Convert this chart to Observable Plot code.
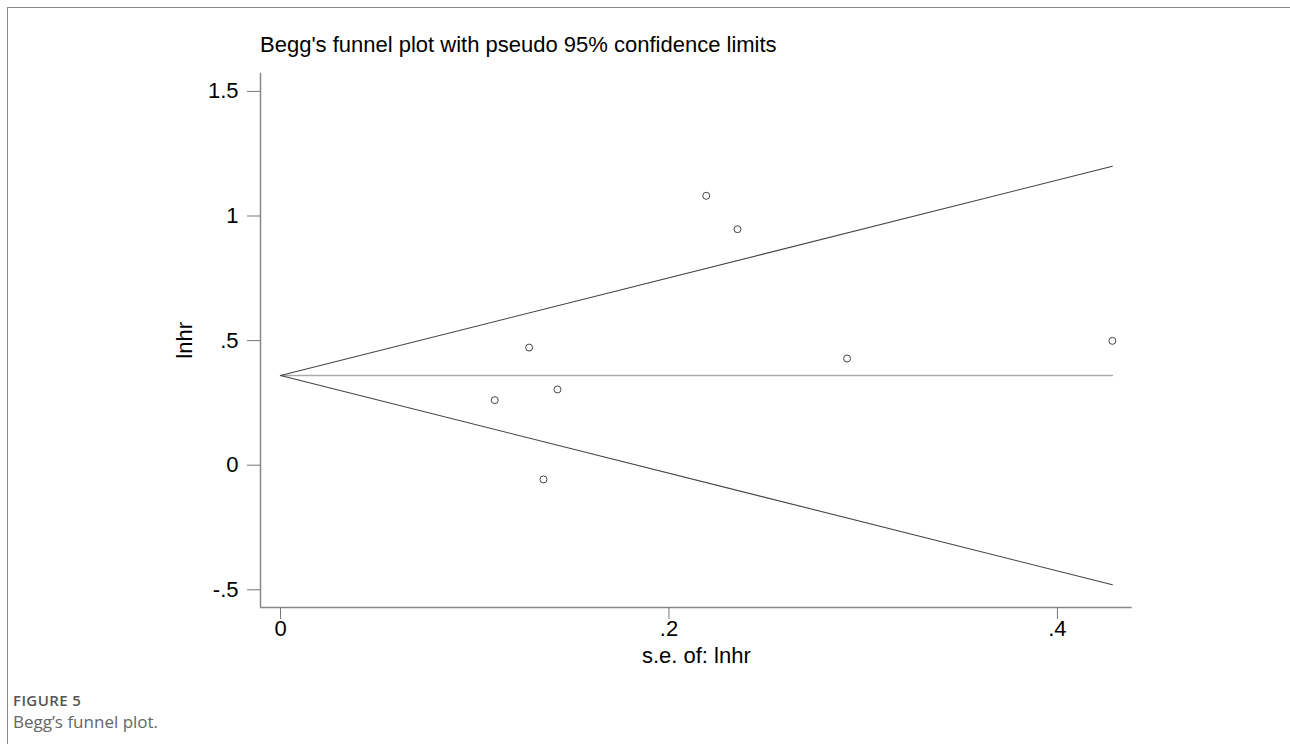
<!DOCTYPE html>
<html>
<head>
<meta charset="utf-8">
<script src="https://cdn.jsdelivr.net/npm/d3@7"></script>
<script src="https://cdn.jsdelivr.net/npm/@observablehq/plot@0.6"></script>
<style>
  html, body { margin: 0; padding: 0; background: #fff; }
  body { width: 1290px; height: 744px; position: relative; overflow: hidden; }
  #frame { position: absolute; left: 7px; top: 7px; width: 1283px; height: 737px;
           border-left: 1.5px solid #8a8a8a; border-top: 1.5px solid #8a8a8a; }
  #chart { position: absolute; left: 0; top: 0; }
  #title { position: absolute; left: 260px; top: 32px; font: 22px "Liberation Sans", Arial, sans-serif;
           color: #000; white-space: nowrap; line-height: 26px; }
  #figlabel { position: absolute; left: 13px; top: 690px; font: 600 15px "Open Sans", sans-serif;
              color: #555; letter-spacing: 0.4px; }
  #figcap { position: absolute; left: 13px; top: 710px; font: 17px "Open Sans", sans-serif; color: #666; }
</style>
</head>
<body>
<div id="frame"></div>
<div id="chart"></div>
<div id="title">Begg's funnel plot with pseudo 95% confidence limits</div>
<div id="figlabel">FIGURE 5</div>
<div id="figcap">Begg’s funnel plot.</div>
<script>
// Study data: standard error of lnhr and lnhr
const se   = [0.1103, 0.1280, 0.1354, 0.1426, 0.2192, 0.2353, 0.2917, 0.4283];
const lnhr = [0.261, 0.472, -0.057, 0.304, 1.081, 0.947, 0.428, 0.499];
// Pooled estimate (centre line of the funnel)
const pooled = 0.360;
const z = 1.96;
// Axis ticks
const xTicks = [0, 0.2, 0.4];
const xTickLabels = ["0", ".2", ".4"];
const yTicks = [-0.5, 0, 0.5, 1, 1.5];
const yTickLabels = ["-.5", "0", ".5", "1", "1.5"];
const xTitle = "s.e. of: lnhr";
const yTitle = "lnhr";

const points = se.map((s, i) => ({se: s, y: lnhr[i]}));
const maxSe = d3.max(se);
const seRange = [0, maxSe];
const centre = seRange.map(s => ({se: s, y: pooled}));
const upper = seRange.map(s => ({se: s, y: pooled + z * s}));
const lower = seRange.map(s => ({se: s, y: pooled - z * s}));

const xDomain = [-0.0103, 0.4385];
const yDomain = [-0.571, 1.573];
const font = "'Liberation Sans', Arial, sans-serif";
const fs = 22;

const chart = Plot.plot({
  width: 1290,
  height: 680,
  marginLeft: 260,
  marginRight: 158.3,
  marginTop: 72.7,
  marginBottom: 73,
  style: {fontFamily: font, fontSize: fs + "px", background: "transparent", color: "#000"},
  x: {domain: xDomain, axis: null},
  y: {domain: yDomain, axis: null},
  marks: [
    Plot.ruleX([xDomain[0]], {stroke: "#888", strokeWidth: 1.5}),
    Plot.ruleY([yDomain[0]], {stroke: "#888", strokeWidth: 1.5}),
    Plot.axisY(yTicks, {anchor: "left", tickSize: 13, tickPadding: 9, stroke: "#777",
      tickFormat: d => yTickLabels[yTicks.indexOf(d)], fontSize: fs, label: null}),
    Plot.axisX(xTicks, {anchor: "bottom", tickSize: 12, tickPadding: 1, stroke: "#777",
      tickFormat: d => xTickLabels[xTicks.indexOf(d)], fontSize: fs, label: null}),
    Plot.text([yTitle], {frameAnchor: "left", dx: -76, rotate: -90, fontSize: fs, textAnchor: "middle"}),
    Plot.text([xTitle], {frameAnchor: "bottom", dy: 55, fontSize: fs, textAnchor: "middle"}),
    Plot.line(centre, {x: "se", y: "y", stroke: "#aaa", strokeWidth: 1.6}),
    Plot.line(upper, {x: "se", y: "y", stroke: "#444", strokeWidth: 1.1}),
    Plot.line(lower, {x: "se", y: "y", stroke: "#444", strokeWidth: 1.1}),
    Plot.dot(points, {x: "se", y: "y", r: 3.5, stroke: "#444", strokeWidth: 1, fill: "none"})
  ]
});
document.getElementById("chart").appendChild(chart);
</script>
</body>
</html>
